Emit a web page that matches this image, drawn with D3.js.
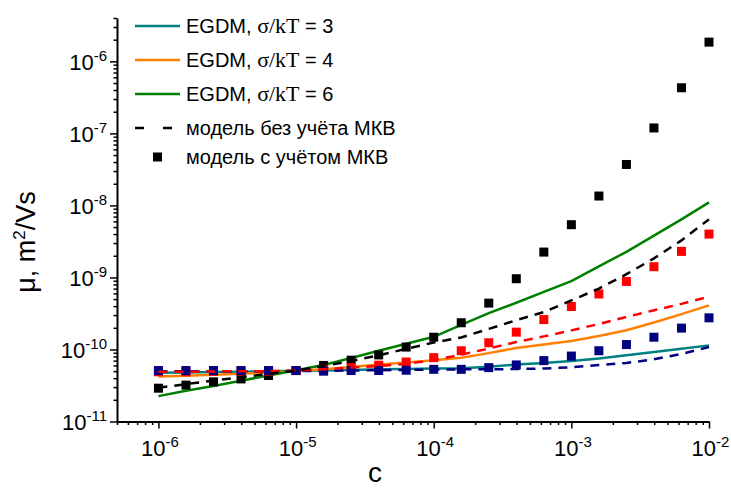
<!DOCTYPE html>
<html>
<head>
<meta charset="utf-8">
<script src="https://cdn.jsdelivr.net/npm/d3@7"></script>
<style>
  body { margin: 0; background: #fff; }
  text { font-family: "Liberation Sans", Arial, sans-serif; fill: #000; }
</style>
</head>
<body>
<div id="chart"></div>
<script>
// concentration points (0.2 decade step)
var conc = [1e-6, 1.585e-6, 2.512e-6, 3.981e-6, 6.31e-6,
  1e-5, 1.585e-5, 2.512e-5, 3.981e-5, 6.31e-5,
  1e-4, 1.585e-4, 2.512e-4, 3.981e-4, 6.31e-4,
  1e-3, 1.585e-3, 2.512e-3, 3.981e-3, 6.31e-3, 1e-2];

// EGDM solid lines
var egdm3 = [4.75e-11, 4.8e-11, 4.85e-11, 4.9e-11, 5.0e-11, 5.05e-11, 5.1e-11, 5.2e-11, 5.3e-11, 5.35e-11,
  5.45e-11, 5.5e-11, 5.75e-11, 6.2e-11, 6.5e-11, 6.9e-11, 7.5e-11, 8.3e-11, 9.2e-11, 1.02e-10, 1.14e-10];
var egdm4 = [4.2e-11, 4.3e-11, 4.45e-11, 4.6e-11, 4.8e-11, 5.0e-11, 5.3e-11, 5.7e-11, 6.2e-11, 6.6e-11,
  7.1e-11, 7.7e-11, 8.9e-11, 1.05e-10, 1.17e-10, 1.31e-10, 1.54e-10, 1.85e-10, 2.37e-10, 3.1e-10, 4.1e-10];
var egdm6 = [2.25e-11, 2.67e-11, 3.12e-11, 3.67e-11, 4.36e-11, 5.15e-11, 6.1e-11, 7.6e-11, 9.6e-11, 1.2e-10,
  1.5e-10, 2.2e-10, 3.2e-10, 4.45e-10, 6.3e-10, 8.9e-10, 1.42e-9, 2.27e-9, 3.8e-9, 6.4e-9, 1.1e-8];

// model without MKV (dashed)
var noMkv3 = [5.0e-11, 5.0e-11, 5.0e-11, 5.0e-11, 5.0e-11, 5.0e-11, 5.05e-11, 5.1e-11, 5.15e-11, 5.2e-11,
  5.25e-11, 5.3e-11, 5.3e-11, 5.35e-11, 5.45e-11, 5.66e-11, 6.07e-11, 6.5e-11, 7.3e-11, 8.66e-11, 1.08e-10];
var noMkv4 = [4.9e-11, 4.9e-11, 4.95e-11, 5.0e-11, 5.0e-11, 5.1e-11, 5.3e-11, 5.6e-11, 5.9e-11, 6.3e-11,
  7.1e-11, 8.5e-11, 1.03e-10, 1.27e-10, 1.52e-10, 1.84e-10, 2.26e-10, 2.83e-10, 3.5e-10, 4.3e-10, 5.4e-10];
var noMkv6 = [2.95e-11, 3.3e-11, 3.7e-11, 4.1e-11, 4.6e-11, 5.1e-11, 5.9e-11, 6.9e-11, 8.3e-11, 1.02e-10,
  1.25e-10, 1.47e-10, 1.93e-10, 2.55e-10, 3.3e-10, 4.8e-10, 7.0e-10, 1.11e-9, 1.84e-9, 3.27e-9, 6.4e-9];

// model with MKV (squares)
var mkv3 = [5.1e-11, 5.1e-11, 5.1e-11, 5.1e-11, 5.1e-11, 5.1e-11, 5.0e-11, 5.1e-11, 5.1e-11, 5.15e-11,
  5.3e-11, 5.3e-11, 5.6e-11, 6.1e-11, 7.0e-11, 8.1e-11, 9.6e-11, 1.17e-10, 1.48e-10, 1.98e-10, 2.75e-10];
var mkv4 = [4.9e-11, 4.9e-11, 4.95e-11, 5.0e-11, 5.0e-11, 5.1e-11, 5.3e-11, 5.6e-11, 6.05e-11, 6.7e-11,
  7.7e-11, 9.6e-11, 1.24e-10, 1.74e-10, 2.6e-10, 3.95e-10, 5.9e-10, 8.8e-10, 1.41e-9, 2.3e-9, 4.0e-9];
var mkv6 = [2.9e-11, 3.2e-11, 3.55e-11, 3.9e-11, 4.35e-11, 5.1e-11, 6.0e-11, 7.1e-11, 8.4e-11, 1.08e-10,
  1.48e-10, 2.35e-10, 4.4e-10, 9.6e-10, 2.25e-9, 5.4e-9, 1.35e-8, 3.7e-8, 1.19e-7, 4.3e-7, 1.85e-6];

var xMajor = [1e-6, 1e-5, 1e-4, 1e-3, 1e-2];
var yMajor = [1e-11, 1e-10, 1e-9, 1e-8, 1e-7, 1e-6];

var legendLabels = ["EGDM, ", "EGDM, ", "EGDM, ", "модель без учёта МКВ", "модель с учётом МКВ"];
var legendSigma = ["3", "4", "6"];

var W = 731, H = 488;
var svg = d3.select("#chart").append("svg")
  .attr("width", W).attr("height", H);

var x = d3.scaleLog().domain([5e-7, 1e-2]).range([117, 709]);
var y = d3.scaleLog().domain([1e-11, 4e-6]).range([421.5, 18]);

// minor ticks
function minorTicks(domain) {
  var out = [];
  var lo = Math.floor(Math.log10(domain[0])), hi = Math.ceil(Math.log10(domain[1]));
  for (var e = lo; e <= hi; e++) {
    for (var m = 2; m <= 9; m++) {
      var v = m * Math.pow(10, e);
      if (v >= domain[0] * 0.999 && v <= domain[1] * 1.001) out.push(v);
    }
  }
  return out;
}

function supLabel(sel, small, dyUp) {
  sel.each(function (d) {
    var t = d3.select(this);
    t.text(null);
    t.append("tspan").text("10");
    t.append("tspan").attr("font-size", small).attr("dy", -dyUp)
      .text(Math.round(Math.log10(d)).toString());
  });
}

// x axis
svg.append("g").attr("transform", "translate(0,421.5)")
  .call(d3.axisBottom(x).tickValues(minorTicks(x.domain())).tickSize(3.5).tickSizeOuter(0).tickFormat(""))
  .call(function (g) { g.select(".domain").remove(); g.selectAll("line").attr("stroke-width", 1.5); });
var xAxis = svg.append("g").attr("transform", "translate(0,421.5)")
  .call(d3.axisBottom(x).tickValues(xMajor).tickSize(7).tickSizeOuter(0).tickPadding(12));
xAxis.select(".domain").attr("stroke-width", 2);
xAxis.selectAll("line").attr("stroke-width", 1.5);
xAxis.selectAll("text").attr("font-size", 22).attr("dy", "0.71em").attr("dx", 1)
  .call(supLabel, 15, 9);

// y axis
svg.append("g").attr("transform", "translate(117,0)")
  .call(d3.axisLeft(y).tickValues(minorTicks(y.domain())).tickSize(3.5).tickSizeOuter(0).tickFormat(""))
  .call(function (g) { g.select(".domain").remove(); g.selectAll("line").attr("stroke-width", 1.5); });
var yAxis = svg.append("g").attr("transform", "translate(117,0)")
  .call(d3.axisLeft(y).tickValues(yMajor).tickSize(7).tickSizeOuter(0).tickPadding(3));
yAxis.select(".domain").attr("stroke-width", 2);
yAxis.selectAll("line").attr("stroke-width", 1.5);
yAxis.selectAll("text").attr("font-size", 22)
  .call(supLabel, 15, 9);
yAxis.selectAll("text").attr("dy", null).attr("y", 8);

// axis titles
svg.append("text").attr("x", 375).attr("y", 482).attr("text-anchor", "middle")
  .attr("font-size", 28).text("c");
var yt = svg.append("text").attr("transform", "translate(35,242) rotate(-90)")
  .attr("text-anchor", "middle").attr("font-size", 27);
yt.append("tspan").text("μ, m");
yt.append("tspan").attr("font-size", 17).attr("dy", -10).text("2");
yt.append("tspan").attr("dy", 10).text("/Vs");

// series
var line = d3.line().x(function (d) { return x(d[0]); }).y(function (d) { return y(d[1]); });
function pairs(vals) { return conc.map(function (c, i) { return [c, vals[i]]; }); }

var solids = [[egdm3, "#008080"], [egdm4, "#FF8000"], [egdm6, "#008000"]];
var dashes = [[noMkv3, "#000080"], [noMkv4, "#FF0000"], [noMkv6, "#000000"]];
var squares = [[mkv6, "#000000"], [mkv4, "#FF0000"], [mkv3, "#000080"]];

solids.forEach(function (s) {
  svg.append("path").datum(pairs(s[0])).attr("d", line)
    .attr("fill", "none").attr("stroke", s[1]).attr("stroke-width", 2.5);
});
squares.forEach(function (s) {
  svg.append("g").selectAll("rect").data(pairs(s[0])).enter().append("rect")
    .attr("x", function (d) { return x(d[0]) - 4.5; })
    .attr("y", function (d) { return y(d[1]) - 4.5; })
    .attr("width", 9).attr("height", 9).attr("fill", s[1]);
});
dashes.forEach(function (s) {
  svg.append("path").datum(pairs(s[0])).attr("d", line)
    .attr("fill", "none").attr("stroke", s[1]).attr("stroke-width", 2.5)
    .attr("stroke-dasharray", "9,7");
});

// legend
var legY = [26, 60, 94, 128, 157];
var legColors = ["#008080", "#FF8000", "#008000"];
for (var i = 0; i < 3; i++) {
  svg.append("line").attr("x1", 135).attr("x2", 180).attr("y1", legY[i]).attr("y2", legY[i])
    .attr("stroke", legColors[i]).attr("stroke-width", 2.5);
}
svg.append("line").attr("x1", 135).attr("x2", 180).attr("y1", legY[3]).attr("y2", legY[3])
  .attr("stroke", "#000").attr("stroke-width", 2.5).attr("stroke-dasharray", "9,19");
svg.append("rect").attr("x", 153).attr("y", legY[4] - 4.5).attr("width", 9).attr("height", 9).attr("fill", "#000");

legendLabels.forEach(function (lab, i) {
  var t = svg.append("text").attr("x", 186).attr("y", legY[i] + 7).attr("font-size", 20);
  t.append("tspan").text(lab);
  if (i < 3) {
    t.append("tspan").attr("font-family", "Liberation Serif, Times New Roman, serif").attr("font-size", 22).text("σ/kT");
    t.append("tspan").text(" = " + legendSigma[i]);
  }
});
</script>
</body>
</html>
